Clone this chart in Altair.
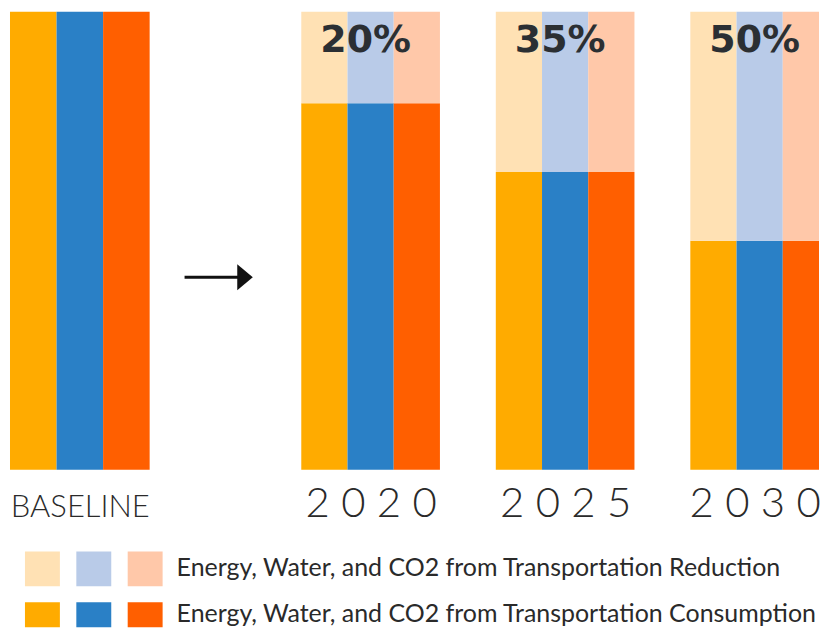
import altair as alt
import pandas as pd

# ---- data ----
groups = ["BASELINE", "2020", "2025", "2030"]
group_labels = ["BASELINE", "2 0 2 0", "2 0 2 5", "2 0 3 0"]
metrics = ["Energy", "Water", "CO2"]
consumption = [100, 80, 65, 50]
reduction = [0, 20, 35, 50]
reduction_labels = ["", "20%", "35%", "50%"]

legend_types = ["Reduction", "Consumption"]
legend_texts = [
    "Energy, Water, and CO2 from Transportation Reduction",
    "Energy, Water, and CO2 from Transportation Consumption",
]

# ---- layout (pixels / panel units, not data) ----
panel_widths = [140, 40, 139, 139, 129]   # baseline, arrow, 2020, 2025, 2030 (2030 cut by page edge)
group_span = [140, 139, 139, 139]          # full width of the three bars of each group
arrow_line = [-0.525, 0.95]
arrow_head = [0.99]
arrow_level = [42]
legend_h = 103
legend_swatch_top = [27, 78]
legend_swatch_size = 35
legend_text_base = [51.7, 98]

color_domain = [
    "Energy|Consumption", "Water|Consumption", "CO2|Consumption",
    "Energy|Reduction", "Water|Reduction", "CO2|Reduction",
]
color_range = ["#FFAB00", "#2A80C6", "#FF5F00", "#FFE1B4", "#B9CBE8", "#FFC8A9"]

FONT = "Lato"
TEXT_COLOR = "#2a2a2a"
BAR_H = 459

color_enc = alt.Color("key:N", scale=alt.Scale(domain=color_domain, range=color_range), legend=None)


def panel(i, width):
    rows = []
    for j, m in enumerate(metrics):
        c = consumption[i]
        rows.append(dict(metric=m, x0=j, x1=j + 1, type="Consumption", y0=0, y1=c,
                         key=f"{m}|Consumption"))
        if reduction[i] > 0:
            rows.append(dict(metric=m, x0=j, x1=j + 1, type="Reduction", y0=c, y1=c + reduction[i],
                             key=f"{m}|Reduction"))
    df = pd.DataFrame(rows)
    is_base = i == 0
    xscale = alt.Scale(domain=[0, len(metrics) * width / group_span[i]], clamp=True, nice=False, zero=False)
    yscale = alt.Scale(domain=[0, 100], nice=False)
    x = alt.X(
        "x0:Q", scale=xscale,
        axis=alt.Axis(
            labels=False, ticks=False, domain=False, grid=False,
            title=group_labels[i], titleFont=FONT,
            titleFontSize=31 if is_base else 42,
            titleFontWeight=300, titleColor=TEXT_COLOR,
            titleBaseline="alphabetic", titlePadding=47,
        ),
    )
    bars = alt.Chart(df).mark_rect(strokeWidth=0).encode(
        x=x, x2="x1:Q",
        y=alt.Y("y0:Q", scale=yscale, axis=None), y2="y1:Q",
        color=color_enc,
    )
    layers = [bars]
    if reduction_labels[i]:
        tdf = pd.DataFrame({"pos": [metrics.index("Water") + 0.5], "top": [100],
                            "label": [reduction_labels[i]]})
        txt = alt.Chart(tdf).mark_text(
            font="DejaVu Sans", fontWeight="bold", fontSize=38, color="#2b2f33",
            baseline="middle", dy=29, dx=-5,
        ).encode(x=alt.X("pos:Q", scale=xscale), y=alt.Y("top:Q", scale=yscale), text="label:N")
        layers.append(txt)
    return alt.layer(*layers).properties(width=width, height=BAR_H)


adf = pd.DataFrame({"x1": [arrow_line[0]], "x2": [arrow_line[1]], "y": arrow_level})
hdf = pd.DataFrame({"x": arrow_head, "y": arrow_level})
arrow_rule = alt.Chart(adf).mark_rule(strokeWidth=3, color="#111111").encode(
    x=alt.X("x1:Q", scale=alt.Scale(domain=[0, 1]), axis=None),
    x2="x2:Q",
    y=alt.Y("y:Q", scale=alt.Scale(domain=[0, 100]), axis=None),
)
arrow_pt = alt.Chart(hdf).mark_point(
    shape="M-0.6,-1L0.6,0L-0.6,1Z", size=676, filled=True, color="#111111", opacity=1
).encode(x=alt.X("x:Q", scale=alt.Scale(domain=[0, 1]), axis=None),
         y=alt.Y("y:Q", scale=alt.Scale(domain=[0, 100]), axis=None))
arrow = alt.layer(arrow_rule, arrow_pt).properties(width=panel_widths[1], height=BAR_H)

row = alt.hconcat(
    panel(0, panel_widths[0]), arrow, panel(1, panel_widths[2]), panel(2, panel_widths[3]),
    panel(3, panel_widths[4]), spacing=56, bounds="flush",
)

# ---- custom legend ----
sq_rows = []
for r, t in enumerate(legend_types):
    for m in metrics:
        sq_rows.append(dict(metric=m, type=t, key=f"{m}|{t}",
                            top=legend_swatch_top[r], bottom=legend_swatch_top[r] + legend_swatch_size))
sq_df = pd.DataFrame(sq_rows)
lt_df = pd.DataFrame({"type": legend_types, "label": legend_texts, "base": legend_text_base})

yscale_leg = alt.Scale(domain=[0, legend_h], reverse=True, clamp=True, nice=False, zero=False)
squares = alt.Chart(sq_df).mark_rect(strokeWidth=0).encode(
    x=alt.X("metric:N", sort=metrics,
            scale=alt.Scale(range=[15, 153], paddingInner=0.32, paddingOuter=0), axis=None),
    y=alt.Y("top:Q", scale=yscale_leg, axis=None),
    y2="bottom:Q",
    color=color_enc,
)
leg_text = alt.Chart(lt_df).mark_text(
    align="left", baseline="alphabetic", font=FONT, fontSize=25, color=TEXT_COLOR
).encode(x=alt.value(167), y=alt.Y("base:Q", scale=yscale_leg, axis=None), text="label:N")
legend = alt.layer(squares, leg_text).properties(width=811, height=legend_h)

chart = alt.vconcat(row, legend, spacing=0).properties(
    padding={"left": 2, "top": 3, "right": 0, "bottom": 0}
).configure_view(stroke=None)

chart.save("out.html", embed_options={"renderer": "svg", "actions": False})
